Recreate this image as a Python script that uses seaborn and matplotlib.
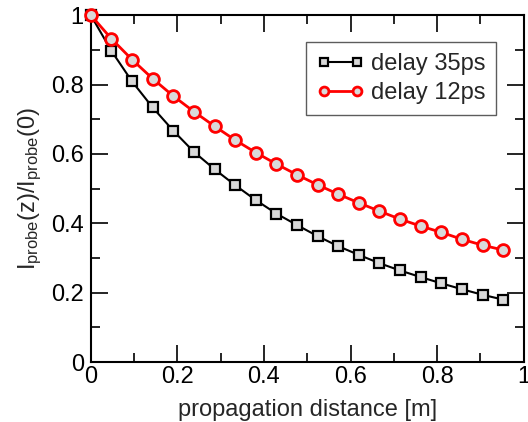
import numpy as np
import pandas as pd
import matplotlib
matplotlib.use("Agg")
import matplotlib.pyplot as plt
import seaborn as sns
from matplotlib.ticker import MultipleLocator

distance = [i / 21 for i in range(21)]
delay35 = [1.0, 0.897, 0.809, 0.734, 0.667, 0.606, 0.556, 0.510, 0.467, 0.428, 0.395,
           0.363, 0.334, 0.309, 0.285, 0.264, 0.245, 0.227, 0.210, 0.194, 0.180]
delay12 = [1.0, 0.932, 0.872, 0.817, 0.767, 0.722, 0.680, 0.640, 0.604, 0.571, 0.540,
           0.511, 0.484, 0.459, 0.435, 0.412, 0.392, 0.374, 0.354, 0.337, 0.323]
labels = ["delay 35ps", "delay 12ps"]

sns.set_style("ticks")
plt.rcParams['font.family'] = ['Liberation Sans', 'DejaVu Sans']
plt.rcParams['mathtext.default'] = 'regular'

fig = plt.figure(figsize=(5.28, 4.22), dpi=100)
ax = fig.add_axes([0.172, 0.142, 0.820, 0.822])

df35 = pd.DataFrame({"x": distance, "y": delay35})
df12 = pd.DataFrame({"x": distance, "y": delay12})
sns.lineplot(data=df35, x="x", y="y", ax=ax, color="black", linewidth=1.5,
             marker="s", markersize=7.5, markerfacecolor="#d9d9d9",
             markeredgecolor="black", markeredgewidth=1.6, label=labels[0],
             clip_on=False, zorder=3)
sns.lineplot(data=df12, x="x", y="y", ax=ax, color="red", linewidth=2.0,
             marker="o", markersize=8.5, markerfacecolor="#d9d9d9",
             markeredgecolor="red", markeredgewidth=2.0, label=labels[1],
             clip_on=False, zorder=4)

ax.set_xlim(0, 1)
ax.set_ylim(0, 1)
ax.set_xticks([0, 0.2, 0.4, 0.6, 0.8, 1.0], ["0", "0.2", "0.4", "0.6", "0.8", "1"])
ax.set_yticks([0, 0.2, 0.4, 0.6, 0.8, 1.0], ["0", "0.2", "0.4", "0.6", "0.8", "1"])
ax.xaxis.set_minor_locator(MultipleLocator(0.1))
ax.yaxis.set_minor_locator(MultipleLocator(0.1))
ax.tick_params(which="both", direction="in", top=True, right=True, width=1.2,
               labelsize=17, colors="black")
ax.tick_params(axis="y", pad=5)
ax.tick_params(axis="x", pad=3)
ax.tick_params(which="major", length=12)
ax.tick_params(which="minor", length=6.5)
for s in ax.spines.values():
    s.set_linewidth(1.5)
    s.set_color("black")

ax.set_xlabel("propagation distance [m]", fontsize=17, labelpad=8)
ax.set_ylabel("$I_{probe}(z)/I_{probe}(0)$", fontsize=17, labelpad=5)

leg = ax.legend(loc="upper right", bbox_to_anchor=(0.936, 0.922), numpoints=2,
                markerscale=0.75, fontsize=17, frameon=True, fancybox=False,
                handlelength=2.0, handletextpad=0.3, borderpad=0.45,
                labelspacing=0.3, borderaxespad=0)
leg.get_frame().set_edgecolor("#333333")
leg.get_frame().set_linewidth(1.0)

fig.savefig("out.png", dpi=100)
